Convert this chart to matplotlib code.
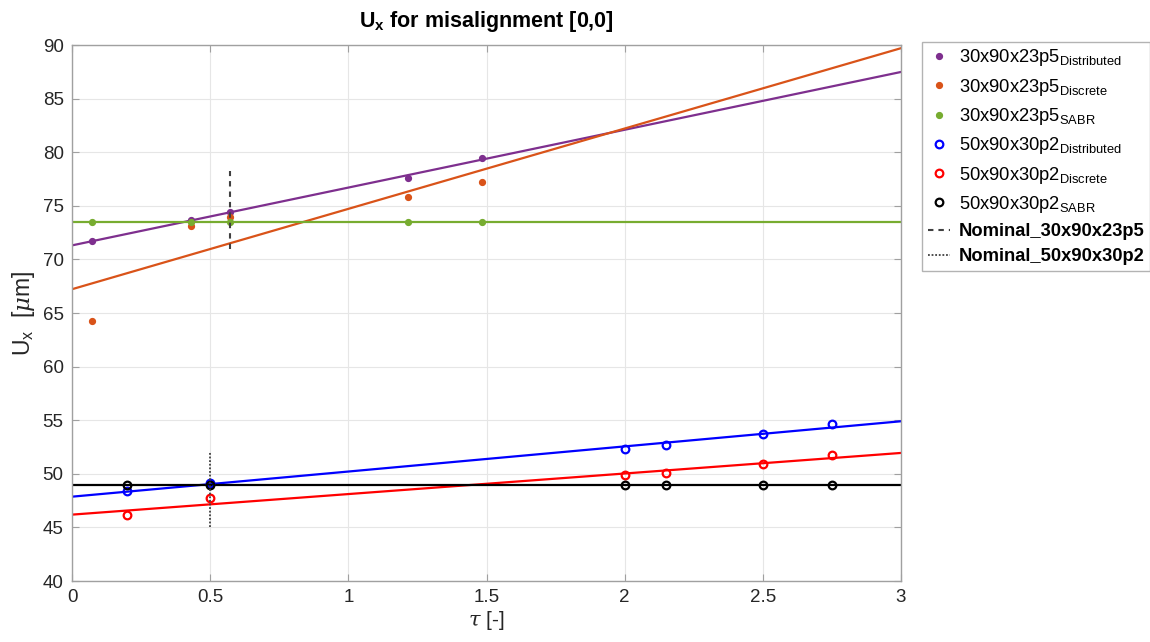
import numpy as np
import matplotlib
matplotlib.use("Agg")
import matplotlib.pyplot as plt

plt.rcParams['font.family'] = ['Liberation Sans', 'DejaVu Sans']
plt.rcParams['mathtext.fontset'] = 'custom'
plt.rcParams['mathtext.rm'] = 'Liberation Sans'
plt.rcParams['mathtext.it'] = 'DejaVu Serif:italic'
plt.rcParams['mathtext.bf'] = 'Liberation Sans:bold'

# ---- data ----
tau_30 = [0.0735, 0.431, 0.573, 1.216, 1.483]
ux_30_distributed = [71.7, 73.7, 74.4, 77.6, 79.5]
ux_30_discrete = [64.25, 73.15, 74.0, 75.8, 77.2]
ux_30_sabr = [73.5, 73.5, 73.5, 73.5, 73.5]

tau_50 = [0.2, 0.5, 2.0, 2.15, 2.5, 2.75]
ux_50_distributed = [48.4, 49.1, 52.34, 52.69, 53.68, 54.67]
ux_50_discrete = [46.2, 47.7, 49.86, 50.1, 50.88, 51.78]
ux_50_sabr = [49.0, 49.0, 49.0, 49.0, 49.0, 49.0]

nominal_30_tau = 0.573
nominal_30_range = [71.0, 78.2]
nominal_50_tau = 0.5
nominal_50_range = [45.0, 52.0]

labels = [r'30x90x23p5$_{\mathrm{Distributed}}$', r'30x90x23p5$_{\mathrm{Discrete}}$',
          r'30x90x23p5$_{\mathrm{SABR}}$', r'50x90x30p2$_{\mathrm{Distributed}}$',
          r'50x90x30p2$_{\mathrm{Discrete}}$', r'50x90x30p2$_{\mathrm{SABR}}$']

W, H = 1150, 642
fig = plt.figure(figsize=(W / 100, H / 100), dpi=100)
ax = fig.add_axes([72 / W, 1 - 581 / H, (901 - 72) / W, (581 - 45) / H])

c_purple = '#7E2F8E'
c_orange = '#D95319'
c_green = '#77AC30'

series = [
    (tau_30, ux_30_distributed, c_purple, True),
    (tau_30, ux_30_discrete, c_orange, True),
    (tau_30, ux_30_sabr, c_green, True),
    (tau_50, ux_50_distributed, 'blue', False),
    (tau_50, ux_50_discrete, 'red', False),
    (tau_50, ux_50_sabr, 'black', False),
]

handles = []
xfit = np.array([0.0, 3.0])
for (x, y, c, filled), lab in zip(series, labels):
    if filled:
        h, = ax.plot(x, y, 'o', ms=4.2, color=c, mec=c, linestyle='none', label=lab, zorder=3)
    else:
        h, = ax.plot(x, y, 'o', ms=5.5, mfc='none', mec=c, mew=1.6, linestyle='none', label=lab, zorder=3)
    handles.append(h)
for (x, y, c, filled) in series:
    p = np.polyfit(x, y, 1)
    ax.plot(xfit, np.polyval(p, xfit), '-', color=c, lw=1.6, zorder=2)

h1, = ax.plot([nominal_30_tau, nominal_30_tau], nominal_30_range, linestyle=(0, (2.6, 2.4)),
              color='#404040', lw=1.5, label='Nominal_30x90x23p5', zorder=4)
h2, = ax.plot([nominal_50_tau, nominal_50_tau], nominal_50_range, linestyle=(0, (1, 1)),
              color='#404040', lw=1.3, label='Nominal_50x90x30p2', zorder=4)
handles += [h1, h2]

ax.set_xlim(0, 3)
ax.set_ylim(40, 90)
ax.set_xticks([0, 0.5, 1, 1.5, 2, 2.5, 3])
ax.set_xticklabels(['0', '0.5', '1', '1.5', '2', '2.5', '3'])
ax.set_yticks(np.arange(40, 91, 5))
ax.grid(True, color='#E6E6E6', lw=0.8)
ax.set_axisbelow(True)
for s in ax.spines.values():
    s.set_color('#A0A0A0')
    s.set_linewidth(1.0)
ax.tick_params(direction='in', length=5, color='#A0A0A0', labelsize=13.5,
               labelcolor='#262626', top=True, right=True, pad=6)

ax.set_title(r'$\mathbf{U_x}$ for misalignment [0,0]', fontsize=15.5, fontweight='bold', pad=13)
ax.set_ylabel(r'U$_\mathrm{x}$  [$\mu$m]', fontsize=16.5, color='#262626', labelpad=4)
ax.set_xlabel(r'$\tau$ [-]', fontsize=15, color='#262626', labelpad=2)

leg = fig.legend(handles=handles, loc='upper left', bbox_to_anchor=(922 / W, 1 - 42 / H),
                 fontsize=13.2, frameon=True, fancybox=False, edgecolor='#A0A0A0',
                 handlelength=1.2, handletextpad=0.5, labelspacing=0.45, borderpad=0.3,
                 borderaxespad=0)
leg.get_frame().set_linewidth(1.0)
for t in leg.get_texts()[6:]:
    t.set_fontweight('bold')

fig.savefig('out.png', dpi=100)
